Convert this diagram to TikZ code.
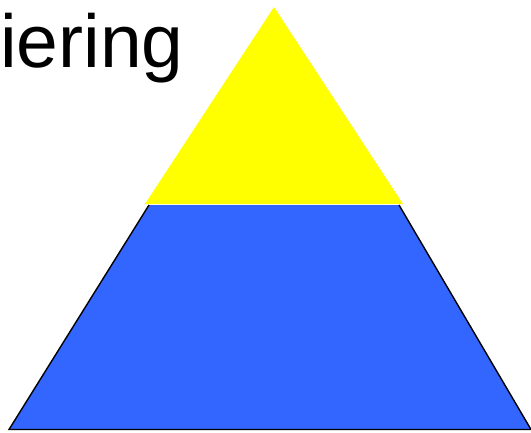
\documentclass[tikz,border=0pt]{standalone}
\usepackage{fontspec}
\setmainfont{Liberation Sans}
\definecolor{pyrblue}{RGB}{51,102,255}
\definecolor{pyryellow}{RGB}{255,255,0}
\begin{document}
\begin{tikzpicture}[x=1pt, y=-1pt, every node/.style={font=\fontsize{75}{82}\selectfont}]
  \useasboundingbox (0,0) rectangle (531,432);
  \coordinate (T) at (274,7);
  \coordinate (L) at (145,204);
  \coordinate (R) at (403,204);
  \coordinate (P) at (149,205);
  \coordinate (Q) at (399,205);
  \coordinate (A) at (9,429.5);
  \coordinate (B) at (531,429.5);
  \fill[pyryellow] (T)--(L)--(R)--cycle;
  \fill[pyrblue] (P)--(A)--(B)--(Q)--cycle;
  \draw[line width=1.4pt] (P)--(A)--(B)--(Q);
  \node[anchor=base west, inner sep=0pt] (title) at (0,67) {iering};
\end{tikzpicture}
\end{document}
